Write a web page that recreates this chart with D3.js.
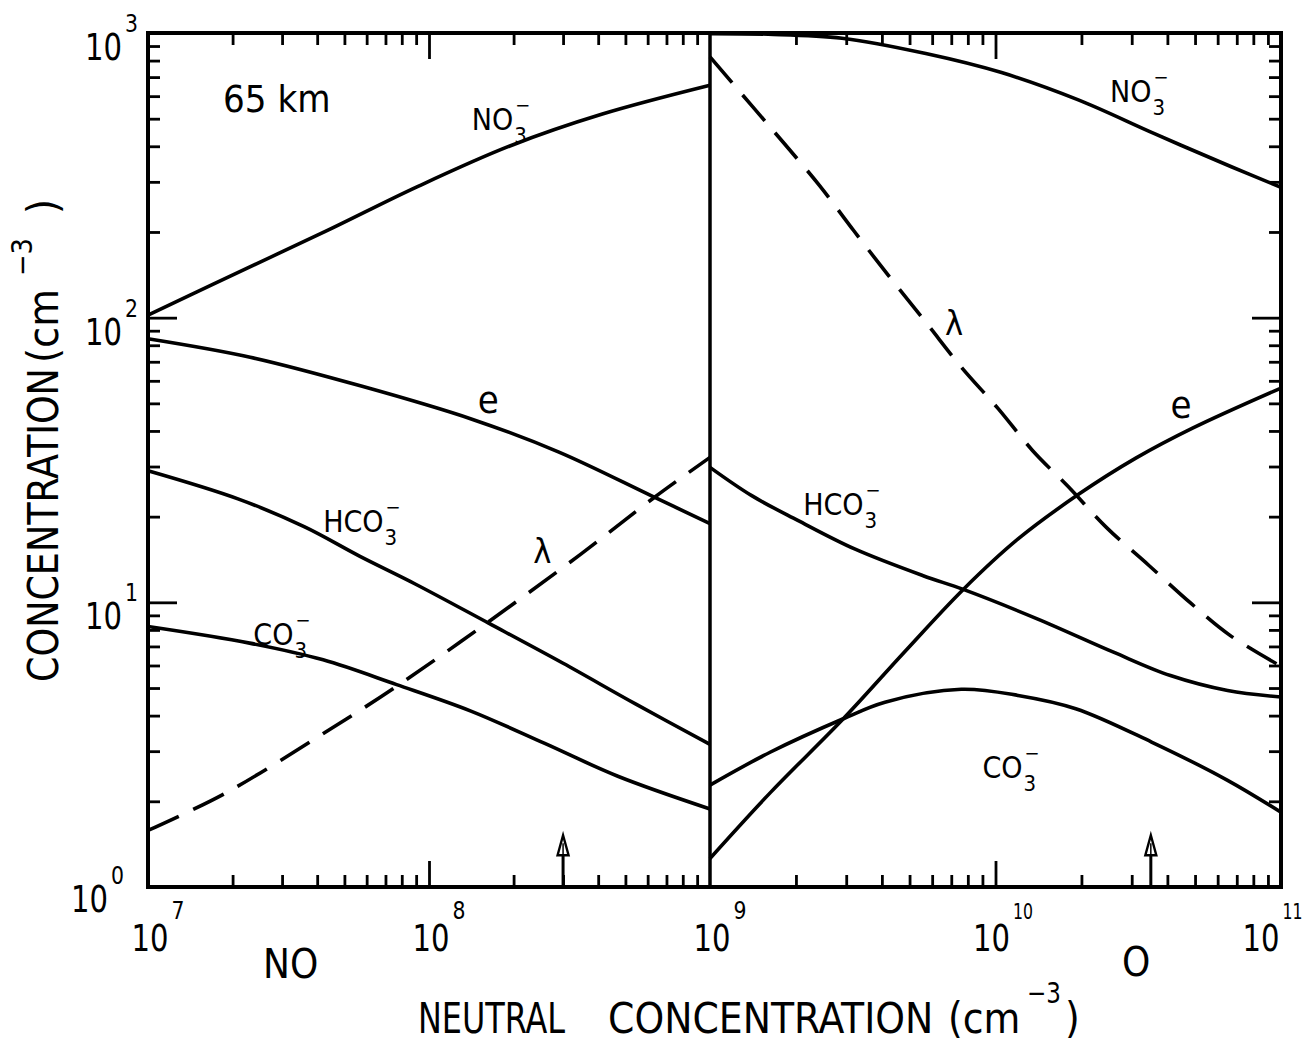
<!DOCTYPE html>
<html>
<head>
<meta charset="utf-8">
<script src="https://cdn.jsdelivr.net/npm/d3@7"></script>
<style>
  body { margin: 0; background: #fff; }
  svg { display: block; }
  text { font-family: "Liberation Sans Narrow", "DejaVu Sans Condensed", "Arial Narrow", sans-serif; fill: #000; }
</style>
</head>
<body>
<div id="chart"></div>
<script>
// values: [neutral concentration, ion concentration]
var no3Left = [[1e7, 102], [1.7e7, 131], [4.24e7, 200], [9.06e7, 288], [1.94e8, 401], [4.14e8, 519], [1e9, 655]];
var eLeft = [[1e7, 84.3], [2.31e7, 72.6], [5.74e7, 57.5], [1.43e8, 43.9], [2.9e8, 33.7], [6.17e8, 23.7], [1e9, 18.9]];
var hco3Left = [[1e7, 29.0], [2.09e7, 23.1], [3.61e7, 18.4], [5.68e7, 14.5], [8.93e7, 11.6], [1.63e8, 8.45], [2.99e8, 6.12], [5.47e8, 4.38], [1e9, 3.17]];
var co3Left = [[1e7, 8.22], [2.3e7, 7.19], [4.2e7, 6.28], [7.67e7, 5.14], [1.41e8, 4.15], [2.57e8, 3.20], [4.7e8, 2.45], [1e9, 1.88]];
var lambdaLeft = [[1e7, 1.58], [1.86e7, 2.12], [4.07e7, 3.39], [7.67e7, 5.07], [1.63e8, 8.55], [3.48e8, 14.8], [6.35e8, 23.4], [1e9, 32.3]];

var no3Right = [[1e9, 995], [1.6e9, 990], [2.9e9, 959], [5.7e9, 847], [1.05e10, 726], [1.95e10, 582], [3.62e10, 442], [6.7e10, 339], [1e11, 287]];
var eRight = [[1e9, 1.26], [1.63e9, 2.15], [2.93e9, 3.90], [4.79e9, 6.68], [7.71e9, 11.1], [1.2e10, 16.7], [1.96e10, 24.0], [3.1e10, 32.1], [4.92e10, 41.0], [1e11, 56.6]];
var hco3Right = [[1e9, 29.8], [1.4e9, 23.7], [2.03e9, 19.4], [3.21e9, 15.4], [5.58e9, 12.4], [7.71e9, 11.1], [1.4e10, 8.75], [2.59e10, 6.68], [4.1e10, 5.53], [6.5e10, 4.90], [1e11, 4.65]];
var co3Right = [[1e9, 2.28], [1.63e9, 2.98], [2.93e9, 3.90], [4.1e9, 4.46], [7.59e9, 4.95], [1.2e10, 4.71], [1.91e10, 4.23], [3.52e10, 3.23], [6.5e10, 2.37], [1e11, 1.83]];
var lambdaRight = [[1e9, 824], [1.41e9, 551], [1.82e9, 409], [2.42e9, 291], [3.19e9, 202], [4.28e9, 138], [5.74e9, 95.5], [7.64e9, 66.5], [1.02e10, 48.0], [1.35e10, 34.1], [1.79e10, 25.6], [2.45e10, 18.3], [3.44e10, 13.5], [4.82e10, 9.95], [6.61e10, 7.67], [1e11, 5.96]];

// arrows marking the reference neutral densities
var arrowX = [3e8, 3.5e10];
var arrowTip = 1.52;

var yDecades = [0, 1, 2, 3];
var xDecadesLeft = [7, 8, 9];
var xDecadesRight = [10, 11];

// curve labels: [panel, x, y, base, sub]
var curveLabels = [
  ['L', 1.42e8, 456, 'NO', '3'],
  ['L', 1.49e8, 46.2, 'e', ''],
  ['L', 4.2e7, 17.7, 'HCO', '3'],
  ['L', 2.35e8, 13.7, '\u03bb', ''],
  ['L', 2.37e7, 7.08, 'CO', '3'],
  ['R', 2.52e10, 570, 'NO', '3'],
  ['R', 6.65e9, 86.9, '\u03bb', ''],
  ['R', 4.1e10, 44.4, 'e', ''],
  ['R', 2.12e9, 20.3, 'HCO', '3'],
  ['R', 9.0e9, 2.42, 'CO', '3']
];

var W = 1307, H = 1044;
var plot = { x0: 148, xm: 710, x1: 1281, y0: 33, y1: 887 };

var svg = d3.select('#chart').append('svg').attr('width', W).attr('height', H);

var xL = d3.scaleLog().domain([1e7, 1e9]).range([plot.x0, plot.xm]);
var xR = d3.scaleLog().domain([1e9, 1e11]).range([plot.xm, plot.x1]);
var y = d3.scaleLog().domain([1, 1000]).range([plot.y1, plot.y0]);

function minors(lo, hi) {
  var out = [];
  for (var e = lo; e < hi; e++) {
    for (var k = 2; k <= 9; k++) out.push(k * Math.pow(10, e));
  }
  return out;
}

function tickAxis(axis, sc, vals, len, tx, ty) {
  var g = svg.append('g')
    .attr('transform', 'translate(' + tx + ',' + ty + ')')
    .call(axis(sc).tickValues(vals).tickSize(-len).tickFormat(''));
  g.select('.domain').remove();
  g.selectAll('.tick line').attr('stroke', '#000').attr('stroke-width', 2.8);
}

// x ticks, top and bottom, both panels
[[xL, 7, 9, [1e8]], [xR, 9, 11, [1e10]]].forEach(function(p) {
  tickAxis(d3.axisBottom, p[0], minors(p[1], p[2]), 12, 0, plot.y1);
  tickAxis(d3.axisBottom, p[0], p[3], 26, 0, plot.y1);
  tickAxis(d3.axisTop, p[0], minors(p[1], p[2]), 12, 0, plot.y0);
  tickAxis(d3.axisTop, p[0], p[3], 26, 0, plot.y0);
});
// y ticks, left and right
tickAxis(d3.axisLeft, y, minors(0, 3), 12, plot.x0, 0);
tickAxis(d3.axisLeft, y, [10, 100], 29, plot.x0, 0);
tickAxis(d3.axisRight, y, minors(0, 3), 12, plot.x1, 0);
tickAxis(d3.axisRight, y, [10, 100], 29, plot.x1, 0);

// frame and divider
svg.append('rect')
  .attr('x', plot.x0).attr('y', plot.y0)
  .attr('width', plot.x1 - plot.x0).attr('height', plot.y1 - plot.y0)
  .attr('fill', 'none').attr('stroke', '#000').attr('stroke-width', 4);
svg.append('line')
  .attr('x1', plot.xm).attr('x2', plot.xm).attr('y1', plot.y0).attr('y2', plot.y1)
  .attr('stroke', '#000').attr('stroke-width', 3.5);

// curves
function curve(data, xs, dashed) {
  var line = d3.line()
    .x(function(d) { return xs(d[0]); })
    .y(function(d) { return y(d[1]); })
    .curve(d3.curveCatmullRom.alpha(0.5));
  svg.append('path')
    .datum(data)
    .attr('d', line)
    .attr('fill', 'none')
    .attr('stroke', '#000')
    .attr('stroke-width', 3.6)
    .attr('stroke-dasharray', dashed ? '34,16' : null);
}
curve(no3Left, xL); curve(eLeft, xL); curve(hco3Left, xL); curve(co3Left, xL);
curve(lambdaLeft, xL, true);
curve(no3Right, xR); curve(eRight, xR); curve(hco3Right, xR); curve(co3Right, xR);
curve(lambdaRight, xR, true);

// arrows
[[xL, arrowX[0]], [xR, arrowX[1]]].forEach(function(a) {
  var ax = a[0](a[1]), tip = y(arrowTip);
  svg.append('line')
    .attr('x1', ax).attr('x2', ax).attr('y1', plot.y1).attr('y2', tip + 18)
    .attr('stroke', '#000').attr('stroke-width', 3);
  svg.append('path')
    .attr('d', 'M' + ax + ',' + tip + 'L' + (ax + 5.5) + ',' + (tip + 20) + 'L' + (ax - 5.5) + ',' + (tip + 20) + 'Z')
    .attr('fill', '#fff').attr('stroke', '#000').attr('stroke-width', 2.4);
  svg.append('line')
    .attr('x1', ax).attr('x2', ax).attr('y1', tip + 8).attr('y2', tip + 20)
    .attr('stroke', '#000').attr('stroke-width', 1.5);
});

// narrow lettering: squeeze a text horizontally to the wanted width
function squeezed(g, x, yb, str, len, size, anchor) {
  var t = g.append('text').style('font-size', size + 'px').text(str);
  var w = t.node().getComputedTextLength();
  var sx = Math.min(1, len / w);
  var dx = anchor === 'end' ? -len : anchor === 'middle' ? -len / 2 : 0;
  t.attr('transform', 'translate(' + (x + dx) + ',' + yb + ') scale(' + sx + ',1)');
  return x + dx + w * sx;
}

// power-of-ten labels
function power(x, yb, exp, anchor, supDy) {
  var endX = squeezed(svg, x, yb, '10', 37, 37, anchor);
  var two = exp.length > 1;
  squeezed(svg, endX + 3, yb + supDy, exp, two ? 20 : 13, two ? 21 : 25);
}
yDecades.forEach(function(e) {
  var ty = y(Math.pow(10, e));
  if (e === 0) power(108, ty + 25, '0', 'end', -28);
  else power(122, ty + 27, String(e), 'end', -28);
});
xDecadesLeft.forEach(function(e) {
  power(xL(Math.pow(10, e)) + 2, 951, String(e), 'middle', -32);
});
xDecadesRight.forEach(function(e) {
  var px = xR(Math.pow(10, e));
  power(e === 11 ? px - 20 : px - 4, 951, String(e), 'middle', -32);
});

// curve labels
curveLabels.forEach(function(l) {
  var xs = l[0] === 'L' ? xL : xR;
  var px = xs(l[1]), py = y(l[2]);
  var big = l[4] === '';
  var t = svg.append('text').attr('x', px).attr('y', py)
    .style('font-size', big ? (l[3] === 'e' ? '38px' : '34px') : '30px').text(l[3]);
  if (l[4]) {
    var w = t.node().getComputedTextLength();
    svg.append('text').attr('x', px + w + 1).attr('y', py + 13).style('font-size', '22px').text(l[4]);
    svg.append('text').attr('x', px + w + 2).attr('y', py - 18).style('font-size', '20px').text('\u2212');
  }
});

squeezed(svg, xL(1.85e7), y(528), '65 km', 110, 38);

// gas names under the axis
svg.append('text').attr('x', 263).attr('y', 978).style('font-size', '40px').text('NO');
svg.append('text').attr('x', 1122).attr('y', 976).style('font-size', '40px').text('O');

// axis titles
squeezed(svg, 418, 1033, 'NEUTRAL', 147, 42);
squeezed(svg, 608, 1033, 'CONCENTRATION', 332, 42);
squeezed(svg, 948, 1033, '(cm', 75, 42);
squeezed(svg, 1027, 1003, '\u22123', 34, 29);
squeezed(svg, 1065, 1033, ')', 17, 42);

var yt = svg.append('g').attr('transform', 'translate(58,682) rotate(-90)');
squeezed(yt, 0, 0, 'CONCENTRATION', 314, 43);
squeezed(yt, 319, 0, '(cm', 79, 43);
squeezed(yt, 406, -26, '\u22123', 38, 29);
squeezed(yt, 468, 0, ')', 17, 43);
</script>
</body>
</html>
